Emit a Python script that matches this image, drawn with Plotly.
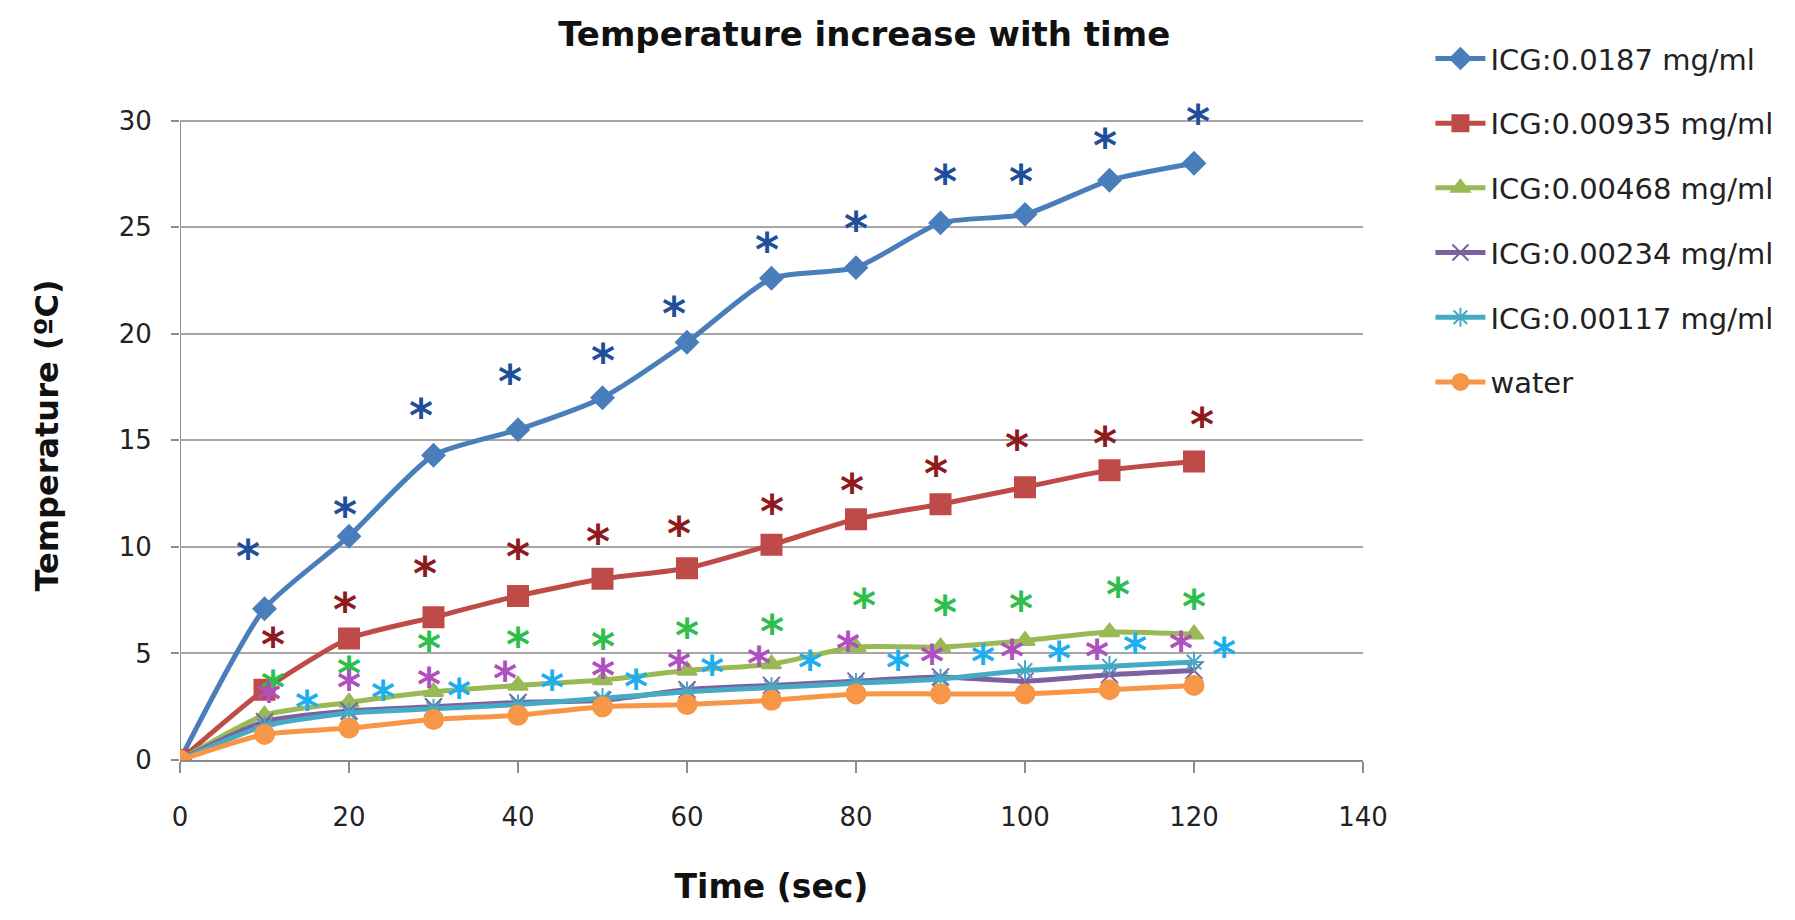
import plotly.graph_objects as go

# time points (sec)
time_s = [0, 10, 20, 30, 40, 50, 60, 70, 80, 90, 100, 110, 120]

# temperature increase (deg C) per ICG concentration
icg_0187 = [0, 7.1, 10.5, 14.3, 15.5, 17.0, 19.6, 22.6, 23.1, 25.2, 25.6, 27.2, 28.0]
icg_00935 = [0, 3.3, 5.7, 6.7, 7.7, 8.5, 9.0, 10.1, 11.3, 12.0, 12.8, 13.6, 14.0]
icg_00468 = [0, 2.1, 2.7, 3.2, 3.5, 3.75, 4.2, 4.5, 5.3, 5.3, 5.6, 6.0, 5.9]
icg_00234 = [0, 1.8, 2.3, 2.5, 2.7, 2.8, 3.3, 3.5, 3.7, 3.9, 3.7, 4.0, 4.2]
icg_00117 = [0, 1.6, 2.2, 2.4, 2.6, 2.9, 3.2, 3.4, 3.6, 3.8, 4.2, 4.4, 4.6]
water = [0, 1.2, 1.5, 1.9, 2.1, 2.5, 2.6, 2.8, 3.1, 3.1, 3.1, 3.3, 3.5]

# significance asterisk positions (x, y) as placed in the original figure
star_blue_x = [8, 19.5, 28.5, 39, 50, 58.5, 69.5, 80, 90.5, 99.5, 109.5, 120.5]
star_blue_y = [9.8, 11.8, 16.4, 18.0, 19.0, 21.2, 24.2, 25.2, 27.4, 27.4, 29.1, 30.2]
star_red_x = [11, 19.5, 29, 40, 49.5, 59, 70, 79.5, 89.5, 99, 109.5, 121]
star_red_y = [5.7, 7.3, 9.0, 9.8, 10.5, 10.9, 11.9, 12.9, 13.7, 14.9, 15.1, 16.0]
star_green_x = [11, 20, 29.5, 40, 50, 60, 70, 81, 90.5, 99.5, 111, 120]
star_green_y = [3.65, 4.3, 5.5, 5.7, 5.6, 6.1, 6.3, 7.5, 7.2, 7.35, 8.0, 7.45]
star_magenta_x = [10.5, 20, 29.5, 38.5, 50, 59, 68.5, 79, 89, 98.5, 108.5, 118.5]
star_magenta_y = [3.1, 3.65, 3.8, 4.1, 4.2, 4.6, 4.8, 5.5, 4.9, 5.1, 5.1, 5.5]
star_cyan_x = [15, 24, 33, 44, 54, 63, 74.5, 85, 95, 104, 113, 123.5]
star_cyan_y = [2.7, 3.2, 3.3, 3.65, 3.7, 4.35, 4.6, 4.6, 4.9, 5.0, 5.4, 5.2]

Y_TOP = 30  # last labelled tick on the temperature axis

FONT = "'DejaVu Sans', sans-serif"

fig = go.Figure()

series = [
    ("ICG:0.0187 mg/ml", icg_0187, "#4A7EBB", "diamond", 17),
    ("ICG:0.00935 mg/ml", icg_00935, "#BE4B48", "square", 20),
    ("ICG:0.00468 mg/ml", icg_00468, "#98B954", "triangle-up", 17),
    ("ICG:0.00234 mg/ml", icg_00234, "#7D60A0", "x-thin-open", 17),
    ("ICG:0.00117 mg/ml", icg_00117, "#46AAC5", "asterisk-open", 17),
    ("water", water, "#F79646", "circle", 19),
]

for i, (name, vals, col, sym, sz) in enumerate(series):
    fig.add_trace(go.Scatter(
        x=time_s, y=vals, name=name, mode="lines+markers",
        legendgroup=f"g{i}",
        line=dict(color=col, width=5, shape="spline", smoothing=0.6),
        marker=dict(symbol=sym, size=sz, color=col, line=dict(color=col, width=2)),
    ))

# asterisks drawn as data-anchored text; yshift centres the glyph on its point
stars = [
    (star_blue_x, star_blue_y, "#1F4E9A"),
    (star_red_x, star_red_y, "#8E1A1E"),
    (star_green_x, star_green_y, "#2DBE4E"),
    (star_magenta_x, star_magenta_y, "#B04FC0"),
    (star_cyan_x, star_cyan_y, "#1EAEF0"),
]
for sx, sy, col in stars:
    for x, y in zip(sx, sy):
        fig.add_annotation(
            x=x, y=y, xref="x", yref="y", text="<b>*</b>", showarrow=False,
            yshift=-6, font=dict(family=FONT, size=46, color=col),
        )

# y axis line stops at the top tick, like the original
fig.add_shape(type="line", xref="x", yref="y", x0=0, x1=0, y0=0, y1=Y_TOP,
              line=dict(color="#8C8C8C", width=2), layer="below")

fig.update_layout(
    width=1795, height=920,
    paper_bgcolor="white", plot_bgcolor="white",
    margin=dict(l=172, r=440, t=103, b=168),
    font=dict(family=FONT, color="#222222", size=26),
    title=dict(text="<b>Temperature increase with time</b>", x=0.477, xanchor="center",
               y=0.972, yanchor="middle", font=dict(size=34, color="#111111")),
    legend=dict(x=1.057, y=1.12, xanchor="left", yanchor="top",
                font=dict(size=29, color="#222222"), tracegroupgap=24,
                itemwidth=50, bgcolor="rgba(0,0,0,0)"),
    showlegend=True,
)

fig.update_xaxes(
    range=[0, 140], dtick=20, tick0=0, showgrid=False, zeroline=False,
    showline=True, linecolor="#8C8C8C", linewidth=2,
    ticks="outside", ticklen=11, tickcolor="#8C8C8C", tickwidth=2,
    ticklabelstandoff=22,
    title=dict(text="<b>Time (sec)</b>", font=dict(size=33, color="#111111"), standoff=44),
)
# range runs a little past 30 so the top asterisk stays visible
fig.update_yaxes(
    range=[0, 30.45], dtick=5, tick0=0, showgrid=True, gridcolor="#A6A6A6", gridwidth=2,
    zeroline=False, showline=False,
    ticks="outside", ticklen=8, tickcolor="#8C8C8C", tickwidth=2,
    ticklabelstandoff=14,
    title=dict(text="<b>Temperature (ºC)</b>", font=dict(size=32, color="#111111"), standoff=50),
)

fig.write_html("out.html")
